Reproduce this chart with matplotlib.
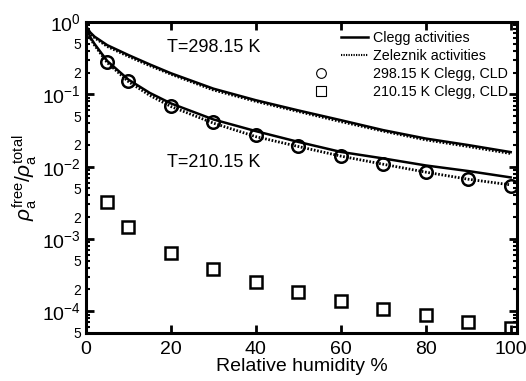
import numpy as np
import matplotlib
matplotlib.use("Agg")
import matplotlib.pyplot as plt
from matplotlib.lines import Line2D
from matplotlib.legend_handler import HandlerLine2D
from matplotlib.ticker import FixedLocator, FixedFormatter

plt.rcParams['font.family'] = ['Liberation Sans', 'DejaVu Sans']
plt.rcParams['mathtext.fontset'] = 'custom'
plt.rcParams['mathtext.rm'] = 'Liberation Sans'
plt.rcParams['mathtext.it'] = 'Liberation Sans:italic'

# model curves
rh_curve = [0, 1, 2, 5, 10, 15, 20, 30, 40, 50, 60, 70, 80, 90, 100]
clegg_298 = [0.88, 0.72, 0.63, 0.48, 0.35, 0.26, 0.196, 0.12, 0.083, 0.06, 0.044, 0.032, 0.0245, 0.0199, 0.0159]
zelez_298 = [0.88, 0.70, 0.61, 0.46, 0.335, 0.25, 0.19, 0.115, 0.08, 0.058, 0.042, 0.031, 0.0235, 0.019, 0.0152]
clegg_210 = [0.88, 0.62, 0.50, 0.29, 0.16, 0.105, 0.075, 0.045, 0.031, 0.022, 0.016, 0.013, 0.0104, 0.0087, 0.0071]
zelez_210 = [0.88, 0.60, 0.48, 0.275, 0.15, 0.097, 0.068, 0.04, 0.026, 0.019, 0.014, 0.0108, 0.0084, 0.0067, 0.0056]

# CLD points
rh_pts = [5, 10, 20, 30, 40, 50, 60, 70, 80, 90, 100]
cld_298 = [0.278, 0.151, 0.068, 0.042, 0.0278, 0.0196, 0.0142, 0.011, 0.0085, 0.0068, 0.0054]
cld_210 = [3.2e-3, 1.47e-3, 6.4e-4, 3.8e-4, 2.5e-4, 1.84e-4, 1.38e-4, 1.07e-4, 8.8e-5, 7.0e-5, 5.8e-5]


class LeftMarker(HandlerLine2D):
    # put the marker to the left of the line handles, as in the original legend
    def create_artists(self, legend, orig_handle, xdescent, ydescent, width, height, fontsize, trans):
        arts = super().create_artists(legend, orig_handle, xdescent, ydescent, width, height, fontsize, trans)
        for a in arts:
            a.set_xdata(np.asarray(a.get_xdata()) - (width / 2 + 14))
        return arts


fig = plt.figure(figsize=(5.26, 3.81), dpi=100)
ax = fig.add_axes([0.1635, 0.126, 0.8195, 0.816])

ax.plot(rh_curve, clegg_298, '-', color='k', lw=1.8)
ax.plot(rh_curve, zelez_298, color='k', lw=2, ls=(0, (0.6, 0.6)))
ax.plot(rh_curve, clegg_210, '-', color='k', lw=1.8)
ax.plot(rh_curve, zelez_210, color='k', lw=2, ls=(0, (0.6, 0.6)))
ax.plot(rh_pts, cld_298, 'o', ms=9, mfc='none', mec='k', mew=1.8)
ax.plot(rh_pts, cld_210, 's', ms=9, mfc='none', mec='k', mew=1.8)

ax.set_yscale('log')
ax.set_xlim(0, 101.5)
ax.set_ylim(5e-5, 1)
ax.set_xticks([0, 20, 40, 60, 80, 100])

ax.yaxis.set_major_locator(FixedLocator([1e-4, 1e-3, 1e-2, 1e-1, 1]))
ax.yaxis.set_major_formatter(FixedFormatter([r'$10^{-4}$', r'$10^{-3}$', r'$10^{-2}$', r'$10^{-1}$', r'$10^{0}$']))
minor_vals = [d * s for d in [1e-5, 1e-4, 1e-3, 1e-2, 1e-1] for s in range(2, 10)]
minor_vals = [v for v in minor_vals if 5e-5 * 0.999 <= v <= 1]
ax.yaxis.set_minor_locator(FixedLocator(minor_vals))
minor_lbls = []
for v in minor_vals:
    m = round(v / 10 ** np.floor(np.log10(v) + 1e-9))
    minor_lbls.append(str(m) if m in (2, 5) else '')
ax.yaxis.set_minor_formatter(FixedFormatter(minor_lbls))

ax.tick_params(which='both', direction='in', top=True, right=True)
ax.tick_params(which='major', length=6, width=2, labelsize=14)
ax.tick_params(which='minor', length=3, width=1.5, labelsize=10)
ax.tick_params(axis='x', pad=6)
for s in ax.spines.values():
    s.set_linewidth(2.2)

ax.set_xlabel('Relative humidity %', fontsize=14, labelpad=0)
ax.set_ylabel(r'$\rho_{\rm a}^{\rm free}/\rho_{\rm a}^{\rm total}$', fontsize=15, labelpad=2)

ax.text(19, 0.45, 'T=298.15 K', fontsize=13, va='center')
ax.text(19, 0.0115, 'T=210.15 K', fontsize=13, va='center')

handles = [
    Line2D([], [], color='k', lw=1.8),
    Line2D([], [], color='k', lw=1.5, ls=(0, (0.6, 0.6))),
    Line2D([], [], ls='none', marker='o', ms=7, mfc='none', mec='k', mew=0.8),
    Line2D([], [], ls='none', marker='s', ms=7, mfc='none', mec='k', mew=0.8),
]
labels = ['Clegg activities', 'Zeleznik activities', '298.15 K Clegg, CLD', '210.15 K Clegg, CLD']
ax.legend(handles, labels, loc='upper right', frameon=False, fontsize=10.3, handlelength=1.9,
          labelspacing=0.28, borderaxespad=0.2, handletextpad=0.4,
          handler_map={handles[2]: LeftMarker(), handles[3]: LeftMarker()})

fig.savefig('out.png', dpi=100)
